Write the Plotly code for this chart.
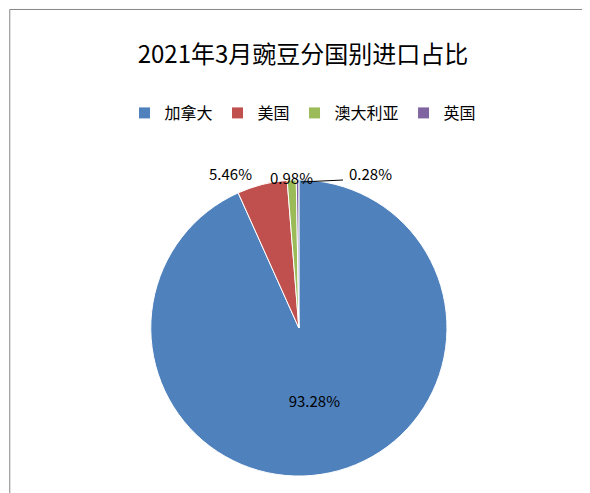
import plotly.graph_objects as go

countries = ["加拿大", "美国", "澳大利亚", "英国"]
shares = [93.28, 5.46, 0.98, 0.28]
colors = ["#4F81BD", "#C0504D", "#9BBB59", "#8064A2"]
labels_txt = ["93.28%", "5.46%", "0.98%", "0.28%"]

W, H = 590, 493
FONT = "Noto Sans CJK SC, Open Sans"

fig = go.Figure(go.Pie(
    labels=countries, values=shares, sort=False, direction="clockwise", rotation=0,
    marker=dict(colors=colors, line=dict(color="white", width=1)),
    text=[labels_txt[0], "", "", ""], textinfo="text",
    textposition="inside", insidetextorientation="horizontal",
    textfont=dict(family=FONT, size=15, color="black"),
    domain=dict(x=[0.242, 0.744], y=[0.05, 0.652]),
    showlegend=True,
))

# outside labels for the small slices
pos = {1: (222, 165), 2: (283, 157), 3: (362, 165)}
anns = [dict(x=pos[i][0] / W, y=1 - pos[i][1] / H, xref="paper", yref="paper",
             text=labels_txt[i], showarrow=False, font=dict(family=FONT, size=15, color="black"))
        for i in pos]

fig.update_layout(
    width=W, height=H, margin=dict(l=0, r=0, t=0, b=0),
    paper_bgcolor="white", plot_bgcolor="white",
    font=dict(family=FONT, color="black"),
    title=dict(text="2021年3月豌豆分国别进口占比", x=0.5, xanchor="center", y=0.905, yanchor="middle",
               font=dict(size=24)),
    legend=dict(orientation="h", x=0.5, xanchor="center", y=0.787, yanchor="middle",
                font=dict(size=16), traceorder="normal", itemwidth=30),
    annotations=anns,
    shapes=[
        dict(type="rect", xref="paper", yref="paper", x0=0.003, y0=0.004, x1=0.995, y1=0.997,
             line=dict(color="#868686", width=1)),
        dict(type="line", xref="paper", yref="paper", x0=293 / W, y0=1 - 174 / H,
             x1=335 / W, y1=1 - 172 / H, line=dict(color="black", width=1)),
    ],
)
fig.write_html("out.html")
